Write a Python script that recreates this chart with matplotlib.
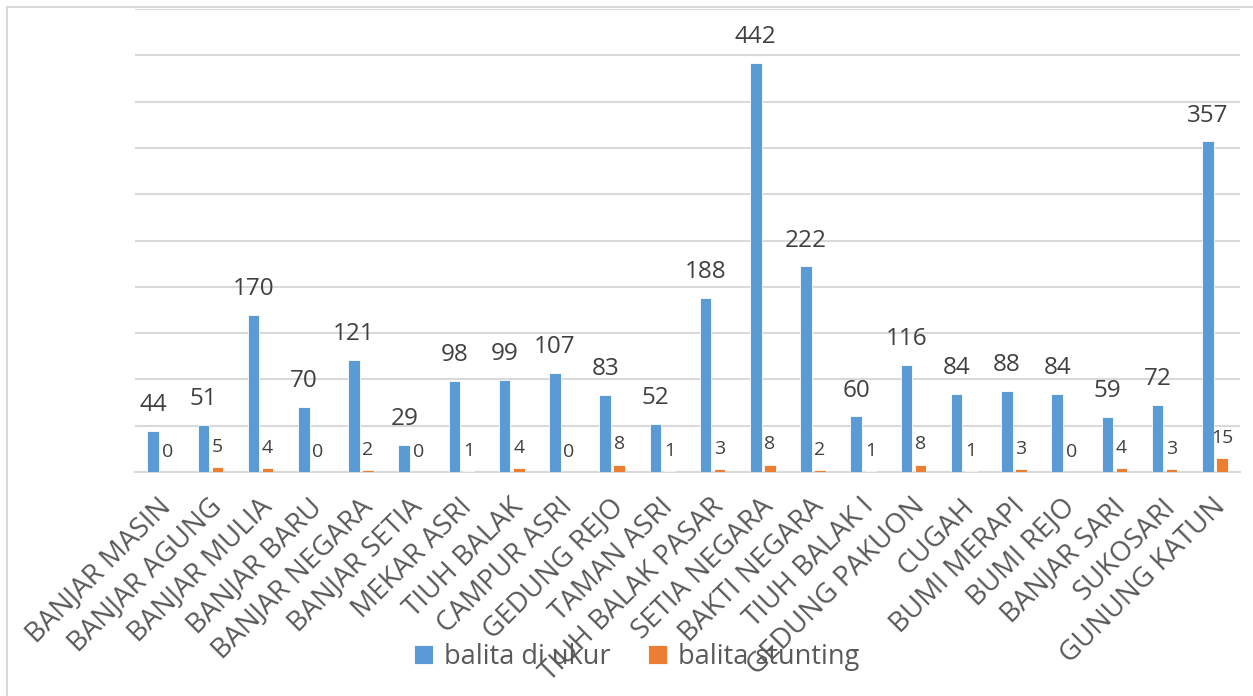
import matplotlib
matplotlib.use("Agg")
import matplotlib.pyplot as plt
import matplotlib.transforms as mtransforms
from matplotlib.patches import Rectangle
import numpy as np

plt.rcParams['font.family'] = ['Open Sans', 'DejaVu Sans']

# data
desa = ['BANJAR MASIN', 'BANJAR AGUNG', 'BANJAR MULIA', 'BANJAR BARU', 'BANJAR NEGARA',
        'BANJAR SETIA', 'MEKAR ASRI', 'TIUH BALAK', 'CAMPUR ASRI', 'GEDUNG REJO',
        'TAMAN ASRI', 'TIUH BALAK PASAR', 'SETIA NEGARA', 'BAKTI NEGARA', 'TIUH BALAK I',
        'GEDUNG PAKUON', 'CUGAH', 'BUMI MERAPI', 'BUMI REJO', 'BANJAR SARI',
        'SUKOSARI', 'GUNUNG KATUN']
balita_diukur = [44, 51, 170, 70, 121, 29, 98, 99, 107, 83, 52, 188, 442, 222, 60, 116,
                 84, 88, 84, 59, 72, 357]
balita_stunting = [0, 5, 4, 0, 2, 0, 1, 4, 0, 8, 1, 3, 8, 2, 1, 8, 1, 3, 0, 4, 3, 15]

biru = '#5B9BD5'
oranye = '#ED7D31'
teks = '#404040'

fig = plt.figure(figsize=(12.53, 6.96), dpi=100)
ax = fig.add_axes([135 / 1253, 1 - 472 / 696, 1105 / 1253, 463 / 696])

x = np.arange(len(desa))
w = 0.23
b1 = ax.bar(x - 0.14, balita_diukur, w, color=biru, edgecolor='white', linewidth=0.6,
            label='balita di ukur', zorder=3)
b2 = ax.bar(x + 0.14, balita_stunting, w, color=oranye, edgecolor='white', linewidth=0.6,
            label='balita stunting', zorder=3)

for r, v in zip(b1, balita_diukur):
    ax.annotate(str(v), (r.get_x() + r.get_width() / 2, v), xytext=(0, 10),
                textcoords='offset points', ha='center', va='bottom',
                fontsize=17.5, color=teks)
for r, v in zip(b2, balita_stunting):
    ax.annotate(str(v), (r.get_x() + r.get_width() / 2, v), xytext=(0, 8),
                textcoords='offset points', ha='center', va='bottom',
                fontsize=14, color=teks)

ax.set_xlim(-0.5, len(desa) - 0.5)
ax.set_ylim(0, 500)
ax.set_yticks(np.arange(0, 501, 50))
ax.yaxis.grid(True, color='#D9D9D9', linewidth=1.5, zorder=0)
ax.set_axisbelow(True)
ax.tick_params(axis='y', left=False, labelleft=False)
ax.tick_params(axis='x', length=0, pad=15)
for s in ['top', 'right', 'left']:
    ax.spines[s].set_visible(False)
ax.spines['bottom'].set_color('#D9D9D9')
ax.spines['bottom'].set_linewidth(1.5)

ax.set_xticks(x)
ax.set_xticklabels(desa, rotation=45, ha='right', va='top', rotation_mode='anchor',
                   fontsize=20, color='#595959')
geser = mtransforms.ScaledTranslation(-3 / 100, 0, fig.dpi_scale_trans)
for lbl in ax.get_xticklabels():
    lbl.set_transform(lbl.get_transform() + geser)

fig.legend(handles=[b1, b2], loc='center', bbox_to_anchor=(0.508, 0.056), ncol=2,
           frameon=False, fontsize=19.5, labelcolor='#595959', handlelength=0.7,
           handleheight=0.7, columnspacing=1.4, handletextpad=0.4)

# bingkai
fig.patches.append(Rectangle((7 / 1253, -0.1), 1.2, 1 - 7 / 696 + 0.1,
                             transform=fig.transFigure, fill=False,
                             edgecolor='#D9D9D9', linewidth=1.5, zorder=0))

fig.savefig('out.png', dpi=100)
